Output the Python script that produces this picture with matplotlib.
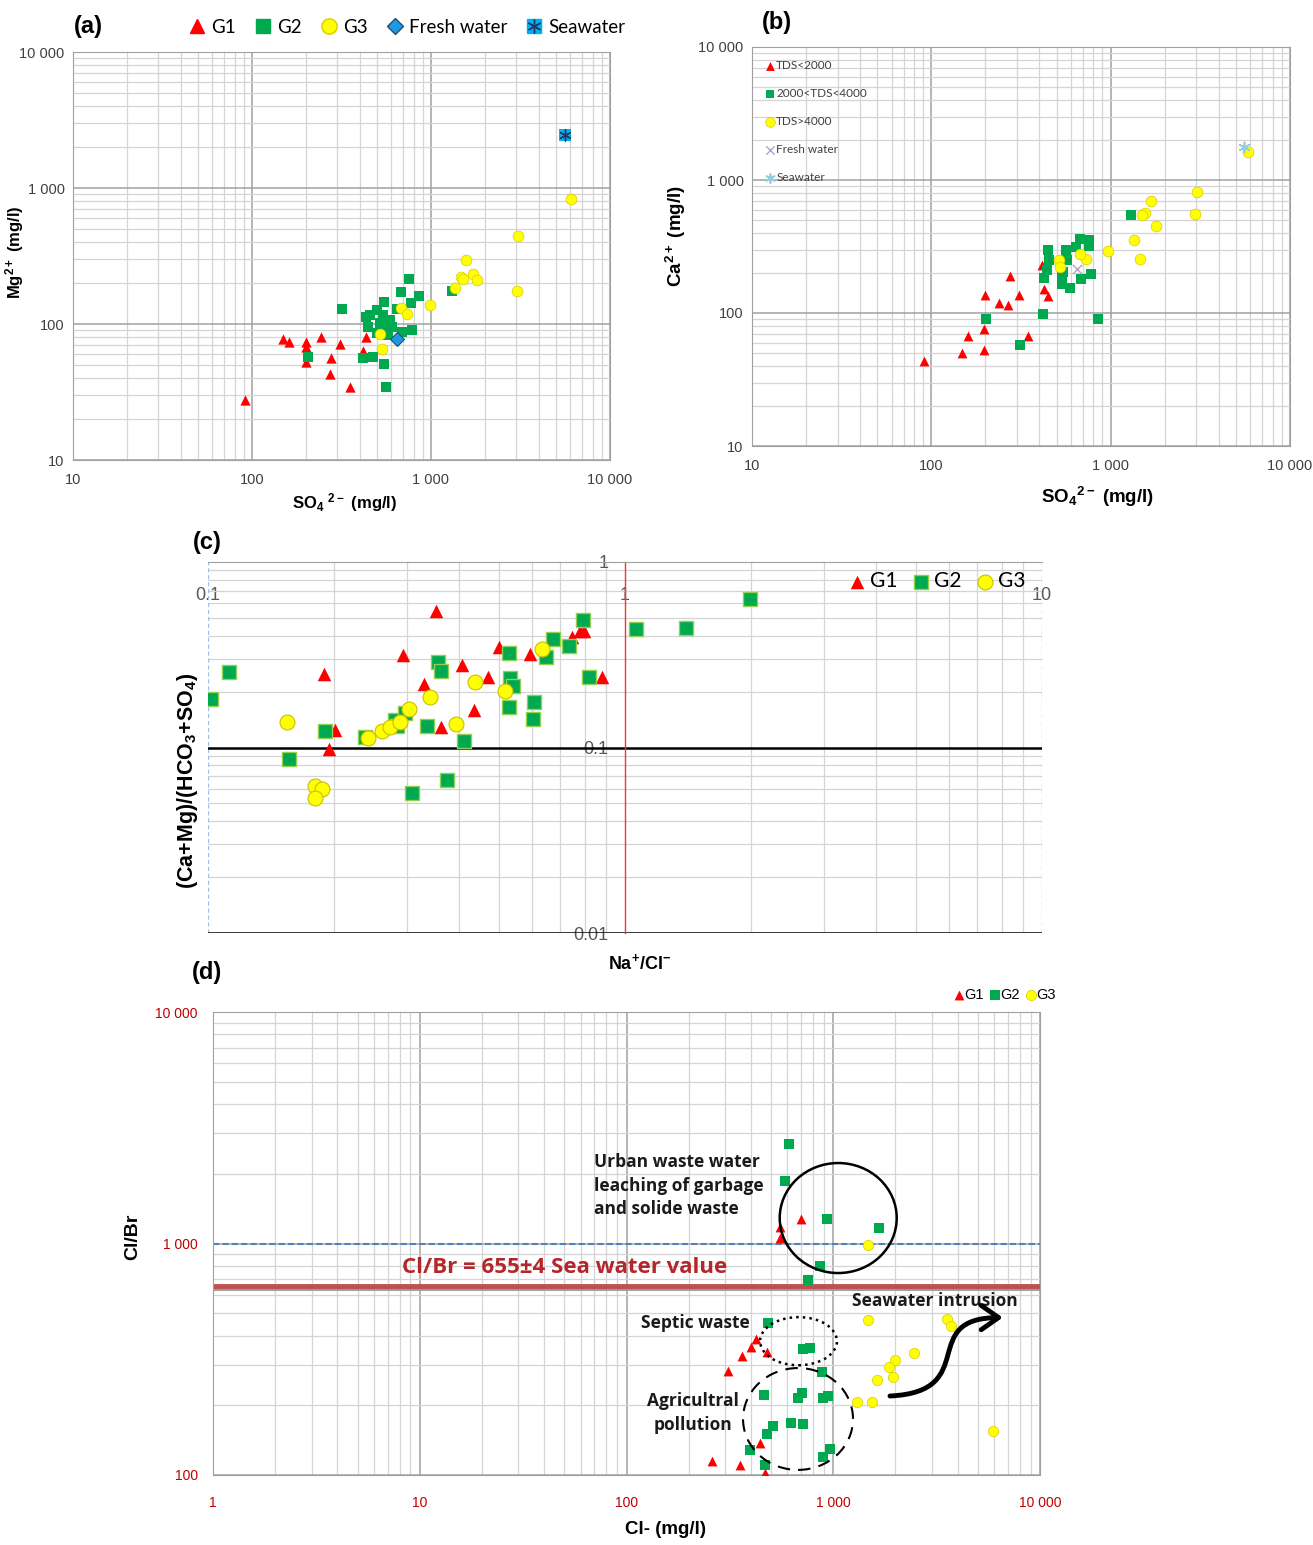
import numpy as np
import matplotlib
matplotlib.use("Agg")
import matplotlib.pyplot as plt
from matplotlib.patches import Ellipse, FancyArrowPatch
from matplotlib.path import Path
from matplotlib.lines import Line2D
from matplotlib.ticker import NullFormatter

plt.rcParams['font.family'] = ['Liberation Sans', 'DejaVu Sans']
plt.rcParams['mathtext.default'] = 'regular'

# ---------------- data ----------------
# (a) SO4 vs Mg
a_g1_so4 = [91, 149, 160, 200, 200, 200, 242, 276, 273, 311, 351, 432, 419]
a_g1_mg = [27.6, 77.6, 73.3, 74.1, 68.1, 52.8, 80.7, 56.5, 42.9, 71.3, 34.6, 79.9, 63.6]
a_g2_so4 = [317, 757, 679, 857, 771, 544, 497, 643, 432, 542, 591, 446, 565, 497, 577,
            685, 787, 1306, 206, 419, 472, 546, 561, 456, 603, 519]
a_g2_mg = [128.8, 214, 172, 162, 143.5, 146, 127, 130, 113, 116, 107, 95.6, 95.6, 85.5, 83,
           87.8, 90.3, 175, 57.5, 56, 57.5, 50.6, 34.4, 116, 95.6, 101]
a_g3_so4 = [6029, 3076, 3012, 1563, 1472, 1511, 1711, 1815, 1368, 984, 679, 735, 519, 530]
a_g3_mg = [826, 446, 176, 296, 223, 214, 233, 211, 185, 138, 131, 119, 84.3, 65.5]
a_fresh = (643, 78)
a_sea = (5610, 2455)

# (b) SO4 vs Ca
b_g1_so4 = [90.6, 149, 197, 160, 197, 198, 274, 239, 268, 309, 347, 412, 426, 447]
b_g1_ca = [43.6, 50.4, 52.5, 67.5, 75.8, 136.5, 190, 119, 115, 136.5, 67.5, 228, 151, 134]
b_g2_so4 = [1294, 203, 313, 417, 845, 773, 686, 590, 537, 424, 447, 561, 674, 757, 757,
            452, 443, 545, 537, 637, 573]
b_g2_ca = [545, 89.8, 57.2, 98.9, 89.8, 196, 179, 155, 165, 182, 298, 298, 358, 354, 319,
           250, 210, 205, 188, 315, 250]
b_g3_so4 = [3048, 2936, 1679, 1555, 1490, 1791, 1356, 1458, 970, 725, 671, 514, 519, 5822]
b_g3_ca = [809, 552, 698, 567, 548, 453, 352, 254, 291, 254, 276, 249, 222, 1625]
b_fresh = (651, 214)
b_sea = (5534, 1770)
b_labels = ["TDS<2000", "2000<TDS<4000", "TDS>4000", "Fresh water", "Seawater"]

# (c) Na/Cl vs (Ca+Mg)/(HCO3+SO4)
c_g1_x = [0.19, 0.202, 0.195, 0.293, 0.330, 0.352, 0.362, 0.406, 0.434, 0.469, 0.500,
          0.592, 0.745, 0.798, 0.78, 0.879]
c_g1_y = [0.249, 0.124, 0.098, 0.315, 0.22, 0.547, 0.1295, 0.279, 0.159, 0.241, 0.349,
          0.318, 0.393, 0.427, 0.427, 0.241]
c_g2_x = [0.1015, 0.112, 0.156, 0.191, 0.238, 0.281, 0.284, 0.297, 0.309, 0.336, 0.356,
          0.362, 0.374, 0.410, 0.528, 0.530, 0.539, 0.527, 0.605, 0.601, 0.647, 0.673,
          0.735, 0.794, 0.818, 1.061, 1.401, 1.994]
c_g2_y = [0.1825, 0.255, 0.0867, 0.123, 0.1136, 0.141, 0.1305, 0.153, 0.057, 0.131, 0.288,
          0.259, 0.067, 0.109, 0.322, 0.238, 0.215, 0.166, 0.175, 0.1425, 0.309, 0.385,
          0.353, 0.485, 0.239, 0.437, 0.441, 0.632]
c_g3_x = [0.155, 0.181, 0.188, 0.181, 0.242, 0.261, 0.273, 0.288, 0.303, 0.340, 0.393,
          0.437, 0.515, 0.631]
c_g3_y = [0.138, 0.062, 0.0595, 0.0532, 0.113, 0.1227, 0.1295, 0.137, 0.162, 0.188,
          0.134, 0.225, 0.202, 0.338]

# (d) Cl vs Cl/Br
d_g1_cl = [698, 552, 552, 421, 398, 476, 361, 311, 443, 258, 354, 468]
d_g1_clbr = [1274, 1183, 1059, 386, 358, 341, 327, 282, 138, 115, 110, 102]
d_g2_cl = [613, 584, 933, 1670, 863, 758, 482, 716, 771, 885, 462, 704, 678, 895, 947,
           624, 716, 513, 476, 396, 468, 895, 965]
d_g2_clbr = [2690, 1857, 1274, 1163, 802, 695, 452, 349, 352, 278, 222, 227, 215, 215,
             219, 168, 166, 162, 151, 128, 110, 120, 130]
d_g3_cl = [1479, 1479, 3540, 3692, 2455, 1986, 1866, 1937, 1619, 1306, 1538, 5900]
d_g3_clbr = [984, 468, 472, 438, 336, 314, 294, 264, 257, 207, 207, 155]
sea_clbr = 655

RED = '#ff0000'
GREEN = '#00a850'
YELLOW = '#ffff00'
YEDGE = '#d8cc00'

W, H = 1313, 1545
fig = plt.figure(figsize=(W / 100, H / 100), dpi=100)


def box(l, t, r, b):
    return [l / W, 1 - b / H, (r - l) / W, (b - t) / H]


def log_grid(ax, lc='#404040', fs=10.5):
    ax.set_xscale('log')
    ax.set_yscale('log')
    ax.grid(which='major', color='#a0a0a0', lw=1.1)
    ax.grid(which='minor', color='#d4d4d4', lw=0.9)
    ax.set_axisbelow(True)
    ax.tick_params(which='both', length=0, labelsize=fs, labelcolor=lc)
    ax.xaxis.set_minor_formatter(NullFormatter())
    ax.yaxis.set_minor_formatter(NullFormatter())
    for s in ax.spines.values():
        s.set_color('#a0a0a0')


def fmt(v):
    return f"{v:,.0f}".replace(",", " ") if v >= 1 else f"{v:g}"


# ---------------- (a) ----------------
axA = fig.add_axes(box(73, 52, 610, 460))
log_grid(axA)
axA.set_xlim(10, 10000)
axA.set_ylim(10, 10000)
ticks = [10, 100, 1000, 10000]
axA.set_xticks(ticks, [fmt(t) for t in ticks])
axA.set_yticks(ticks, [fmt(t) for t in ticks])
axA.tick_params(axis='x', pad=9)
axA.tick_params(axis='y', pad=6)
axA.scatter(a_g1_so4, a_g1_mg, s=55, marker='^', c=RED, lw=0, zorder=3)
axA.scatter(a_g2_so4, a_g2_mg, s=55, marker='s', c=GREEN, lw=0, zorder=3)
axA.scatter(a_g3_so4, a_g3_mg, s=60, marker='o', c=YELLOW, ec=YEDGE, lw=0.5, zorder=3)
axA.scatter(*a_fresh, s=50, marker='D', c='#1e9be0', ec='#1f4e79', lw=0.8, zorder=4)
axA.scatter(*a_sea, s=65, marker='s', c='#00b0f0', lw=0, zorder=4)
axA.scatter(*a_sea, s=65, marker=(6, 2, 0), c='#1f3864', lw=1.0, zorder=5)
axA.set_xlabel(r"SO$_4$ $^{2-}$ (mg/l)", fontsize=12, fontweight='bold')
axA.set_ylabel(r"Mg$^{2+}$ (mg/l)", fontsize=12, fontweight='bold')
axA.xaxis.set_label_coords(0.505, -0.076)
axA.yaxis.set_label_coords(-0.0875, 0.51)
hA = [Line2D([], [], ls='none', marker='^', mfc=RED, mec=RED, ms=10),
      Line2D([], [], ls='none', marker='s', mfc=GREEN, mec=GREEN, ms=10),
      Line2D([], [], ls='none', marker='o', mfc=YELLOW, mec=YEDGE, ms=11),
      Line2D([], [], ls='none', marker='D', mfc='#1e9be0', mec='#1f4e79', ms=8),
      (Line2D([], [], ls='none', marker='s', mfc='#00b0f0', mec='#00b0f0', ms=10),
       Line2D([], [], ls='none', marker=(6, 2, 0), mec='#1f3864', ms=10, mew=1))]
axA.legend(hA, ["G1", "G2", "G3", "Fresh water", "Seawater"], ncol=5, frameon=False,
           loc='center', bbox_to_anchor=(0.622, 1.061), prop={'family': 'Lato', 'size': 13.5},
           handlelength=0.9, handletextpad=0.3, columnspacing=1.0)

# ---------------- (b) ----------------
axB = fig.add_axes(box(752, 47, 1290, 446))
log_grid(axB)
axB.set_xlim(10, 10000)
axB.set_ylim(10, 10000)
axB.set_xticks(ticks, [fmt(t) for t in ticks])
axB.set_yticks(ticks, [fmt(t) for t in ticks])
axB.tick_params(axis='x', pad=9)
axB.tick_params(axis='y', pad=6)
sb1 = axB.scatter(b_g1_so4, b_g1_ca, s=50, marker='^', c=RED, lw=0, zorder=3)
sb2 = axB.scatter(b_g2_so4, b_g2_ca, s=50, marker='s', c=GREEN, lw=0, zorder=3)
sb3 = axB.scatter(b_g3_so4, b_g3_ca, s=60, marker='o', c=YELLOW, ec=YEDGE, lw=0.5, zorder=3)
sb4 = axB.scatter(*b_fresh, s=45, marker='x', c='#b3a2c7', lw=1.0, zorder=4)
sb5 = axB.scatter(*b_sea, s=55, marker=(6, 2, 0), c='#93cddd', lw=1.2, zorder=4)
axB.set_xlabel(r"SO$_4$$^{2-}$ (mg/l)", fontsize=13.5, fontweight='bold')
axB.set_ylabel(r"Ca$^{2+}$ (mg/l)", fontsize=13.5, fontweight='bold')
axB.xaxis.set_label_coords(0.643, -0.098)
axB.yaxis.set_label_coords(-0.119, 0.526)
axB.legend([sb1, sb2, sb3, sb4, sb5], b_labels, loc='upper left', frameon=False,
           bbox_to_anchor=(0.0, 1.0), prop={'family': 'Lato', 'size': 8.5},
           labelspacing=1.45, handlelength=0.8, handletextpad=0.15, borderpad=0.6,
           markerscale=0.9, labelcolor='#404040')

# ---------------- (c) ----------------
axC = fig.add_axes(box(208, 562, 1042, 933))
axC.set_xscale('log')
axC.set_yscale('log')
axC.set_xlim(0.1, 10)
axC.set_ylim(0.01, 1)
axC.grid(which='minor', color='#d4d4d4', lw=0.9)
axC.set_axisbelow(True)
axC.spines['top'].set_visible(False)
axC.spines['right'].set_visible(False)
axC.spines['left'].set_position(('data', 1))
axC.spines['left'].set_color('#ff3030')
axC.spines['left'].set_linewidth(1.0)
axC.spines['bottom'].set_position(('data', 1))
axC.spines['bottom'].set_color('#a0a0a0')
axC.axvline(0.1, color='#9dc3e6', ls=(0, (3, 2)), lw=1.0)
axC.axvline(10, color='#9dc3e6', ls=(0, (3, 2)), lw=1.0)
axC.axhline(0.1, color='black', lw=1.8, zorder=2)
axC.axhline(0.01, color='black', lw=1.8, zorder=2)
axC.set_xticks([0.1, 1, 10], ['0.1', '1', '10'])
axC.set_yticks([0.01, 0.1, 1], ['0.01', '0.1', '1'])
axC.xaxis.set_minor_formatter(NullFormatter())
axC.yaxis.set_minor_formatter(NullFormatter())
axC.tick_params(which='both', length=0, labelsize=13, labelcolor='#595959')
axC.tick_params(axis='x', pad=18)
axC.tick_params(axis='y', pad=12)
sc1 = axC.scatter(c_g1_x, c_g1_y, s=95, marker='^', c=RED, lw=0, zorder=3)
sc2 = axC.scatter(c_g2_x, c_g2_y, s=105, marker='s', c=GREEN, ec='#92d050', lw=1.0, zorder=3)
sc3 = axC.scatter(c_g3_x, c_g3_y, s=115, marker='o', c=YELLOW, ec='#c9c000', lw=0.8, zorder=3)
axC.set_xlabel(r"Na$^{+}$/Cl$^{-}$", fontsize=13, fontweight='bold')
axC.set_ylabel(r"(Ca+Mg)/(HCO$_3$+SO$_4$)", fontsize=15.5, fontweight='bold')
axC.xaxis.set_label_coords(0.518, -0.054)
axC.yaxis.set_label_coords(-0.0096, 0.41)
axC.legend([sc1, sc2, sc3], ["G1", "G2", "G3"], ncol=3, frameon=False, loc='center',
           bbox_to_anchor=(0.874, 0.948), prop={'family': 'Lato', 'size': 15},
           handlelength=0.8, handletextpad=0.25, columnspacing=0.7)

# ---------------- (d) ----------------
axD = fig.add_axes(box(213, 1012, 1040, 1475))
log_grid(axD, lc='#c00000', fs=10)
axD.set_xlim(1, 10000)
axD.set_ylim(100, 10000)
xt = [1, 10, 100, 1000, 10000]
yt = [100, 1000, 10000]
axD.set_xticks(xt, [fmt(t) for t in xt])
axD.set_yticks(yt, [fmt(t) for t in yt])
axD.tick_params(axis='x', pad=15)
axD.tick_params(axis='y', pad=11)
axD.axhline(1000, color='#4f81bd', ls=(0, (3, 1.5)), lw=1.5, zorder=2)
axD.axhline(sea_clbr * 0.985, color='#9a9a9a', lw=3.5, zorder=2)
axD.axhline(sea_clbr, color='#c0504d', lw=3.5, zorder=2)
sd1 = axD.scatter(d_g1_cl, d_g1_clbr, s=50, marker='^', c=RED, lw=0, zorder=3)
sd2 = axD.scatter(d_g2_cl, d_g2_clbr, s=50, marker='s', c=GREEN, lw=0, zorder=3)
sd3 = axD.scatter(d_g3_cl, d_g3_clbr, s=55, marker='o', c=YELLOW, ec=YEDGE, lw=0.5, zorder=3)
axD.set_xlabel("Cl- (mg/l)", fontsize=13.5, fontweight='bold')
axD.set_ylabel("Cl/Br", fontsize=14, fontweight='bold')
axD.xaxis.set_label_coords(0.5466, -0.099)
axD.yaxis.set_label_coords(-0.087, 0.514)
axD.legend([sd1, sd2, sd3], ["G1", "G2", "G3"], ncol=3, frameon=False, loc='center right',
           bbox_to_anchor=(1.03, 1.037), prop={'size': 10.5}, handlelength=0.6,
           handletextpad=0.05, columnspacing=0.5, borderpad=0.1)

tkw = dict(transform=axD.transAxes, family='Open Sans', fontweight='bold', color='#1a1a1a')
axD.text(0.4256, 0.449, "Cl/Br = 655±4 Sea water value", ha='center', va='center',
         fontsize=16, transform=axD.transAxes, family='Open Sans', fontweight='bold',
         color='#b5262b', zorder=5)
axD.text(0.4607, 0.6955, "Urban waste water\nleaching of garbage\nand solide waste",
         ha='left', va='top', fontsize=12.5, linespacing=1.4, **tkw)
axD.text(0.5175, 0.3283, "Septic waste", ha='left', va='center', fontsize=12.5, **tkw)
axD.text(0.5804, 0.1339, "Agricultral\npollution", ha='center', va='center',
         multialignment='center', fontsize=12.5, linespacing=1.4, **tkw)
axD.text(0.7727, 0.3758, "Seawater intrusion", ha='left', va='center', fontsize=12.5, **tkw)

axD.add_patch(Ellipse((0.756, 0.555), 0.1415, 0.2376, transform=axD.transAxes,
                      fill=False, ec='black', lw=1.8, zorder=4))
axD.add_patch(Ellipse((0.708, 0.289), 0.093, 0.104, transform=axD.transAxes,
                      fill=False, ec='black', lw=1.8, ls=':', zorder=4))
axD.add_patch(Ellipse((0.7074, 0.121), 0.133, 0.220, transform=axD.transAxes,
                      fill=False, ec='black', lw=1.5, ls=(0, (6, 4)), zorder=4))
verts = [(0.8186, 0.1706), (0.93, 0.18), (0.85, 0.34), (0.955, 0.34)]
codes = [Path.MOVETO, Path.CURVE4, Path.CURVE4, Path.CURVE4]
axD.add_patch(FancyArrowPatch(path=Path(verts, codes), transform=axD.transAxes,
                              arrowstyle='->,head_length=0.5,head_width=0.35',
                              mutation_scale=25, lw=3.5, color='black', zorder=5))

# panel letters
for lab, px, py in [("(a)", 88, 27), ("(b)", 777, 22), ("(c)", 207, 543), ("(d)", 207, 972)]:
    fig.text(px / W, 1 - py / H, lab, ha='center', va='center', fontsize=17,
             fontweight='bold')

fig.savefig("out.png", dpi=100)
